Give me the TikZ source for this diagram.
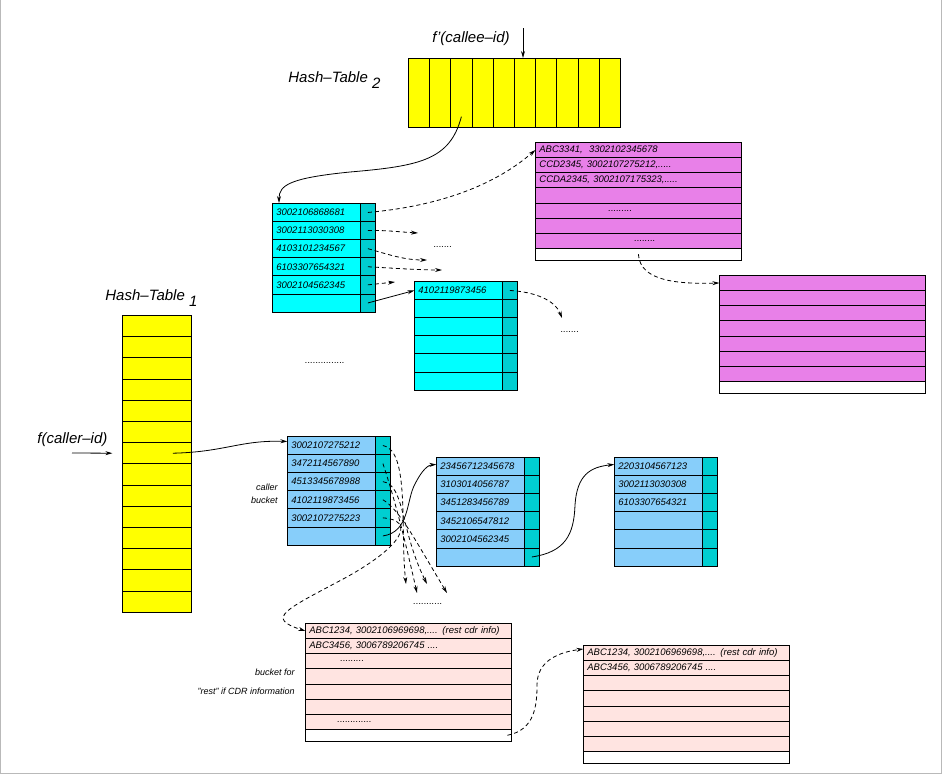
\documentclass[tikz,border=0pt]{standalone}
\usepackage{fontspec}
\setmainfont{Liberation Sans}
\usetikzlibrary{matrix,arrows.meta}

\definecolor{htyellow}{RGB}{255,255,0}
\definecolor{bkcyan}{RGB}{0,255,255}
\definecolor{bkptr}{RGB}{0,206,209}
\definecolor{bkblue}{RGB}{135,206,250}
\definecolor{cdrviolet}{RGB}{232,128,232}
\definecolor{cdrpink}{RGB}{255,228,225}

\tikzset{
        numfont/.style={font=\itshape\fontsize{9.5}{11}\selectfont},
        lblfont/.style={font=\itshape\fontsize{15}{18}\selectfont},
        hashtab/.style={matrix of nodes, nodes in empty cells, anchor=north west,
                inner sep=0pt, outer sep=0pt, row sep=-0.8pt, column sep=-0.8pt,
                nodes={draw, fill=htyellow, anchor=center, inner sep=0pt, outer sep=0pt}},
        bucket/.style 2 args={matrix of nodes, nodes in empty cells, anchor=north west,
                inner sep=0pt, outer sep=0pt, row sep=-0.8pt, column sep=-0.8pt,
                nodes={draw, anchor=center, inner sep=0pt, outer sep=0pt,
                        minimum height=18.1pt, numfont},
                column 1/.style={nodes={fill=#1, text width=80pt, inner xsep=4pt, align=left}},
                column 2/.style={nodes={fill=#2, minimum width=15pt}}},
        cdrtab/.style={matrix of nodes, nodes in empty cells, anchor=north west,
                inner sep=0pt, outer sep=0pt, row sep=-0.8pt, column sep=-0.8pt,
                nodes={draw, fill=#1, anchor=center, inner sep=0pt, inner xsep=4pt,
                        outer sep=0pt, minimum height=15.15pt, text width=198pt,
                        align=left, numfont},
                row 8/.style={nodes={fill=white, minimum height=11.6pt}}},
        link/.style={-{Stealth[length=7pt,width=4pt]}},
        dashlink/.style={link, dash pattern=on 4pt off 3pt},
}

\begin{document}
\begin{tikzpicture}[x=1pt, y=-1pt, line width=0.8pt]
        \useasboundingbox (0,0) rectangle (942,774);
        \draw[gray!55, line width=1pt] (0.5,0) -- (0.5,773.5) -- (941.5,773.5) -- (941.5,0);

        % hash tables
        \matrix (hashB) [hashtab, nodes={minimum width=21.2pt, minimum height=68.5pt}] at (408,58) {
                 & & & & & & & & & \\
        };
        \matrix (hashA) [hashtab, nodes={minimum width=69pt, minimum height=21.2pt}] at (122,315) {
                \\ \\ \\ \\ \\ \\ \\
                \\ \\ \\ \\ \\ \\ \\
        };
        \node (lblB) [lblfont, anchor=base west, inner sep=0pt] at (288,82) {Hash–Table \raisebox{-6pt}{2}};
        \node (lblA) [lblfont, anchor=base west, inner sep=0pt] at (105,300) {Hash–Table \raisebox{-6pt}{1}};
        \node (callee) [lblfont, anchor=base west, inner sep=0pt] at (432,42) {f’(callee–id)};
        \node (caller) [lblfont, anchor=base west, inner sep=0pt] at (37,443) {f(caller–id)};
        \coordinate (calleeIn) at (523,28);
        \coordinate (callerIn) at (72,453);
        \draw[link] (calleeIn) -- (calleeIn |- hashB.north);
        \draw[link] (callerIn) -- ([xshift=-10pt]hashA-7-1.west);

        % buckets
        \matrix (bktA) [bucket={bkcyan}{bkptr}] at (272,203) {
                3002106868681 & \\
                3002113030308 & \\
                4103101234567 & \\
                6103307654321 & \\
                3002104562345 & \\
                              & \\
        };
        \matrix (bktC) [bucket={bkcyan}{bkptr}] at (414,281) {
                4102119873456 & \\
                & \\ & \\ & \\ & \\ & \\
        };
        \matrix (bktB) [bucket={bkblue}{bkptr}] at (287,436) {
                3002107275212 & \\
                3472114567890 & \\
                4513345678988 & \\
                4102119873456 & \\
                3002107275223 & \\
                              & \\
        };
        \matrix (bktD) [bucket={bkblue}{bkptr}] at (436,457) {
                23456712345678 & \\
                3103014056787 & \\
                3451283456789 & \\
                3452106547812 & \\
                3002104562345 & \\
                              & \\
        };
        \matrix (bktE) [bucket={bkblue}{bkptr}] at (614,457) {
                2203104567123 & \\
                3002113030308 & \\
                6103307654321 & \\
                & \\ & \\ & \\
        };
        \node (bktLbl) [font=\itshape\fontsize{9}{12.5}\selectfont, align=right, anchor=east, inner sep=0pt]
                at (278,494) {caller\\bucket};

        % cdr records
        \matrix (cdrA) [cdrtab=cdrviolet] at (535,142) {
                ABC3341,\ \ 3302102345678 \\
                CCD2345, 3002107275212,..... \\
                CCDA2345, 3002107175323,..... \\
                \\
                \hspace*{69pt}......... \\
                \\
                \hspace*{95pt}........ \\
                \\
        };
        \matrix (cdrB) [cdrtab=cdrviolet] at (719,275) {
                \\ \\ \\ \\ \\ \\ \\ \\
        };
        \matrix (cdrC) [cdrtab=cdrpink] at (305,623) {
                ABC1234, 3002106969698,.... (rest cdr info) \\
                ABC3456, 3006789206745 .... \\
                \hspace*{31pt}......... \\
                \\ \\ \\
                \hspace*{28pt}............. \\
                \\
        };
        \matrix (cdrD) [cdrtab=cdrpink] at (583,645) {
                ABC1234, 3002106969698,.... (rest cdr info) \\
                ABC3456, 3006789206745 .... \\
                \\ \\ \\ \\ \\ \\
        };
        \node (restLbl) [font=\itshape\fontsize{9}{19}\selectfont, align=right, anchor=east, inner sep=0pt]
                at (295,682) {bucket for\\"rest" if CDR information};

        \node (dotsA) [numfont, inner sep=0pt] at (443,247) {.......};
        \node (dotsC) [numfont, inner sep=0pt] at (570,332) {.......};
        \node (dotsMid) [numfont, inner sep=0pt] at (325,363) {...............};
        \node (dotsB) [numfont, inner sep=0pt] at (428,604) {...........};

        % connectors
        \coordinate (endA2) at (418,233);
        \coordinate (endA3) at (427,260);
        \coordinate (endA4) at (442,270);
        \coordinate (endA5) at (395,282);
        \coordinate (endC1) at (562,318);
        \coordinate (endB1) at (406,584);
        \coordinate (endB2) at (417,593);
        \coordinate (endB3) at (427,584);
        \coordinate (endB4) at (447,593);

        \draw[link] ([yshift=-24pt]hashB-1-3.center) .. controls (450,160) and (420,166) .. (350,172)
                .. controls (290,178) and (279,185) .. ([xshift=7pt]bktA.north west);
        \draw[dashlink] (bktA-1-2.center) .. controls (440,206) and (495,185) .. (cdrA-1-1.west);
        \draw[dashlink] (bktA-2-2.center) .. controls (385,230) and (400,232) .. (endA2);
        \draw[dashlink] (bktA-3-2.center) .. controls (390,255) and (405,260) .. (endA3);
        \draw[dashlink] (bktA-4-2.center) .. controls (390,268) and (420,270) .. (endA4);
        \draw[dashlink] (bktA-5-2.center) -- (endA5);
        \draw[link] (bktA-6-2.center) -- (bktC-1-1.west);
        \draw[dashlink] (bktC-1-2.center) .. controls (535,292) and (555,300) .. (endC1);
        \draw[dashlink] (cdrA-8-1.center) .. controls (640,282) and (680,284) .. (cdrB-1-1.west);

        \draw[link] ([xshift=16pt]hashA-7-1.center) .. controls (225,452) and (240,440) .. ([yshift=4pt]bktB-1-1.west);
        \draw[dashlink] (bktB-1-2.center) .. controls (410,450) and (400,530) .. (endB1);
        \draw[dashlink] (bktB-2-2.center) .. controls (395,500) and (405,540) .. (endB2);
        \draw[dashlink] (bktB-3-2.center) .. controls (405,485) and (400,530) .. (endB3);
        \draw[dashlink] (bktB-4-2.center) .. controls (400,510) and (415,540) .. (endB4);
        \draw[dashlink] (bktB-5-2.center) .. controls (415,520) and (405,545) .. (345,578)
                .. controls (285,610) and (265,618) .. (cdrC-1-1.west);
        \draw[link] (bktB-6-2.center) .. controls (410,532) and (406,500) .. (415,484)
                .. controls (422,470) and (428,465) .. ([yshift=2pt]bktD-1-1.west);
        \draw[link] (bktD-6-2.center) .. controls (565,552) and (574,535) .. (575,505)
                .. controls (577,475) and (590,467) .. ([yshift=2pt]bktE-1-1.west);
        \draw[dashlink] ([xshift=-4pt]cdrC-8-1.east) .. controls (535,730) and (537,705) .. (537,685)
                .. controls (537,660) and (560,652) .. ([yshift=4pt]cdrD-1-1.west);
\end{tikzpicture}
\end{document}
